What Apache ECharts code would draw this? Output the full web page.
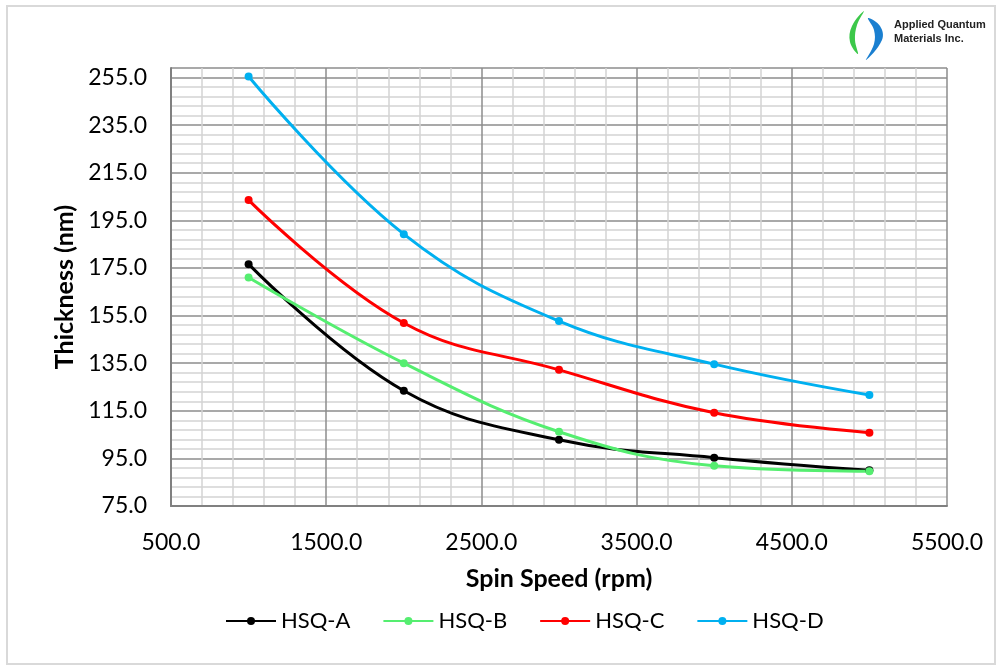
<!DOCTYPE html>
<html>
<head>
<meta charset="utf-8">
<script src="https://cdn.jsdelivr.net/npm/echarts@6/dist/echarts.min.js"></script>
<style>
  html, body { margin: 0; padding: 0; background: #fff; }
  #chart { width: 1002px; height: 670px; }
</style>
</head>
<body>
<div id="chart"></div>
<script>
// spin speed (rpm)
const speeds = [1000, 2000, 3000, 4000, 5000]
const seriesNames = ['HSQ-A', 'HSQ-B', 'HSQ-C', 'HSQ-D']
const hsqA = [176.6, 123.4, 102.8, 95.3, 90.0]
const hsqB = [171.0, 135.0, 106.2, 91.9, 89.6]
const hsqC = [203.5, 151.9, 132.2, 114.2, 105.8]
const hsqD = [255.4, 189.2, 152.7, 134.6, 121.6]
const colors = ['#000000', '#55EE70', '#FF0000', '#00B0F0']

const font = 'Lato, "Open Sans", sans-serif'

function pairs (vals) {
  return speeds.map((s, i) => [s, vals[i]])
}

const allData = [hsqA, hsqB, hsqC, hsqD]
const series = allData.map((vals, i) => ({
  name: seriesNames[i],
  type: 'line',
  smooth: 0.4,
  symbol: 'circle',
  symbolSize: 8,
  lineStyle: { width: 3, color: colors[i] },
  itemStyle: { color: colors[i] },
  data: pairs(vals)
}))

const chart = echarts.init(document.getElementById('chart'))
chart.setOption({
  backgroundColor: '#fff',
  animation: false,
  color: colors,
  textStyle: { fontFamily: font },
  grid: { left: 171, right: 55, top: 68, bottom: 164 },
  legend: {
    bottom: 33,
    left: 220,
    itemWidth: 50,
    itemHeight: 10,
    itemGap: 32,
    textStyle: { fontSize: 22, color: '#000', fontFamily: font },
    data: seriesNames
  },
  xAxis: {
    type: 'value',
    min: 500,
    max: 5500,
    interval: 1000,
    name: 'Spin Speed (rpm)',
    nameLocation: 'middle',
    nameGap: 60,
    nameTextStyle: { fontSize: 25, fontWeight: 'bold', color: '#000', fontFamily: font },
    axisLine: { show: true, onZero: false, lineStyle: { color: '#808080', width: 2 } },
    axisTick: { show: false },
    axisLabel: { fontSize: 23, color: '#000', margin: 25, formatter: v => v.toFixed(1) },
    splitLine: { show: true, lineStyle: { color: '#8c8c8c', width: 1.5 } },
    minorTick: { show: false, splitNumber: 5 },
    minorSplitLine: { show: true, lineStyle: { color: '#d4d4d4', width: 1.5 } }
  },
  yAxis: {
    type: 'value',
    min: 75,
    max: 259,
    interval: 20,
    name: 'Thickness (nm)',
    nameLocation: 'middle',
    nameGap: 93,
    nameTextStyle: { fontSize: 25, fontWeight: 'bold', color: '#000', fontFamily: font },
    axisLine: { show: true, lineStyle: { color: '#808080', width: 2 } },
    axisTick: { show: false },
    axisLabel: {
      fontSize: 23, color: '#000', margin: 24,
      showMaxLabel: false,
      formatter: v => v.toFixed(1)
    },
    splitLine: { show: true, lineStyle: { color: '#8c8c8c', width: 1.5 } },
    minorTick: { show: false, splitNumber: 5 },
    minorSplitLine: { show: true, lineStyle: { color: '#d4d4d4', width: 1.5 } }
  },
  graphic: [
    {
      type: 'rect',
      shape: { x: 7, y: 6, width: 988, height: 658 },
      style: { fill: 'none', stroke: '#d9d9d9', lineWidth: 2 },
      silent: true
    },
    {
      // logo: green leaf
      type: 'polygon',
      shape: { points: [[864, 11], [852, 26], [850, 42], [858, 54], [855, 40], [857, 25]], smooth: 0.4 },
      style: { fill: '#3cc84a' },
      silent: true
    },
    {
      // logo: blue leaf
      type: 'polygon',
      shape: { points: [[868, 18], [880, 26], [882, 40], [866, 60], [874, 44], [874, 30]], smooth: 0.4 },
      style: { fill: '#1a7fd0' },
      silent: true
    },
    {
      type: 'text',
      left: 894,
      top: 19,
      style: { text: 'Applied Quantum', fontSize: 11, fontWeight: 'bold', fill: '#222', fontFamily: 'Liberation Sans, sans-serif' }
    },
    {
      type: 'text',
      left: 894,
      top: 33,
      style: { text: 'Materials Inc.', fontSize: 11, fontWeight: 'bold', fill: '#222', fontFamily: 'Liberation Sans, sans-serif' }
    }
  ],
  series: series
})
</script>
</body>
</html>
